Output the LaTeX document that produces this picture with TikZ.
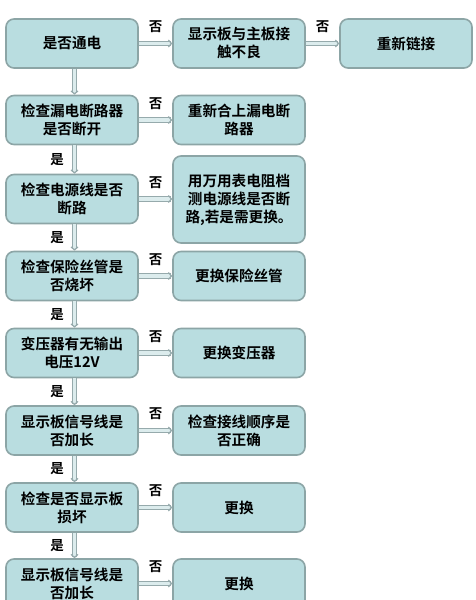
\documentclass[tikz,border=0pt]{standalone}
\usepackage{fontspec}
\setmainfont{Noto Sans CJK SC}
\newfontfamily\cjkb{Noto Sans CJK SC Bold}
\usetikzlibrary{arrows.meta}
\definecolor{boxfill}{RGB}{185,221,224}
\definecolor{boxline}{RGB}{140,165,166}
\definecolor{arrline}{RGB}{150,170,172}
\definecolor{arrfill}{RGB}{220,236,237}
\tikzset{
  fbox/.style={draw=boxline, line width=1.6pt, fill=boxfill, rounded corners=8pt,
    minimum width=132pt, minimum height=49pt, align=center,
    font=\cjkb\fontsize{14.6}{18}\selectfont, inner sep=2pt},
  arr/.style={draw=arrline, line width=1.2pt, double=arrfill, double distance=3.4pt,
    -{Straight Barb[length=3pt,width=7pt]}},
  lbl/.style={font=\cjkb\fontsize{13.5}{15}\selectfont, inner sep=0pt}
}
\begin{document}
\begin{tikzpicture}[x=1pt,y=-1pt]
\useasboundingbox (0,0) rectangle (476,600);
\clip (0,0) rectangle (476,600);
\fill[white] (0,0) rectangle (476,600);
% column 1
\node[fbox] (a1) at (72,43.5) {是否通电};
\node[fbox] (a2) at (72,120) {检查漏电断路器\\是否断开};
\node[fbox] (a3) at (72,199) {检查电源线是否\\断路};
\node[fbox] (a4) at (72,276) {检查保险丝管是\\否烧坏};
\node[fbox] (a5) at (72,353) {变压器有无输出\\电压12V};
\node[fbox] (a6) at (72,430.5) {显示板信号线是\\否加长};
\node[fbox] (a7) at (72,507.5) {检查是否显示板\\损坏};
\node[fbox] (a8) at (72,583.5) {显示板信号线是\\否加长};
% column 2
\node[fbox] (b1) at (239,43.5) {显示板与主板接\\触不良};
\node[fbox] (b2) at (239,120) {重新合上漏电断\\路器};
\node[fbox, minimum height=87pt] (b3) at (239,199.5) {用万用表电阻档\\测电源线是否断\\路,若是需更换。};
\node[fbox] (b4) at (239,276) {更换保险丝管};
\node[fbox] (b5) at (239,353) {更换变压器};
\node[fbox] (b6) at (239,430.5) {检查接线顺序是\\否正确};
\node[fbox] (b7) at (239,507.5) {更换};
\node[fbox] (b8) at (239,583.5) {更换};
% column 3
\node[fbox] (c1) at (406,43.5) {重新链接};
% horizontal arrows
\draw[arr] (a1.east) -- node[lbl, yshift=16.5pt] {否} (b1.west);
\draw[arr] (b1.east) -- node[lbl, yshift=16.5pt] {否} (c1.west);
\foreach \i in {2,4,5,6,7,8}{
  \draw[arr] (a\i.east) -- node[lbl, yshift=16.5pt] {否} (b\i.west);
}
\draw[arr] (a3.east) -- node[lbl, yshift=16.5pt] {否} (a3.east -| b3.west);
% vertical arrows
\draw[arr] ([xshift=2.5pt]a1.south) -- ([xshift=2.5pt]a2.north);
\foreach \i/\j in {2/3,3/4,4/5,5/6,6/7,7/8}{
  \draw[arr] ([xshift=2.5pt]a\i.south) -- node[lbl, xshift=-17.5pt] {是} ([xshift=2.5pt]a\j.north);
}
\end{tikzpicture}
\end{document}
